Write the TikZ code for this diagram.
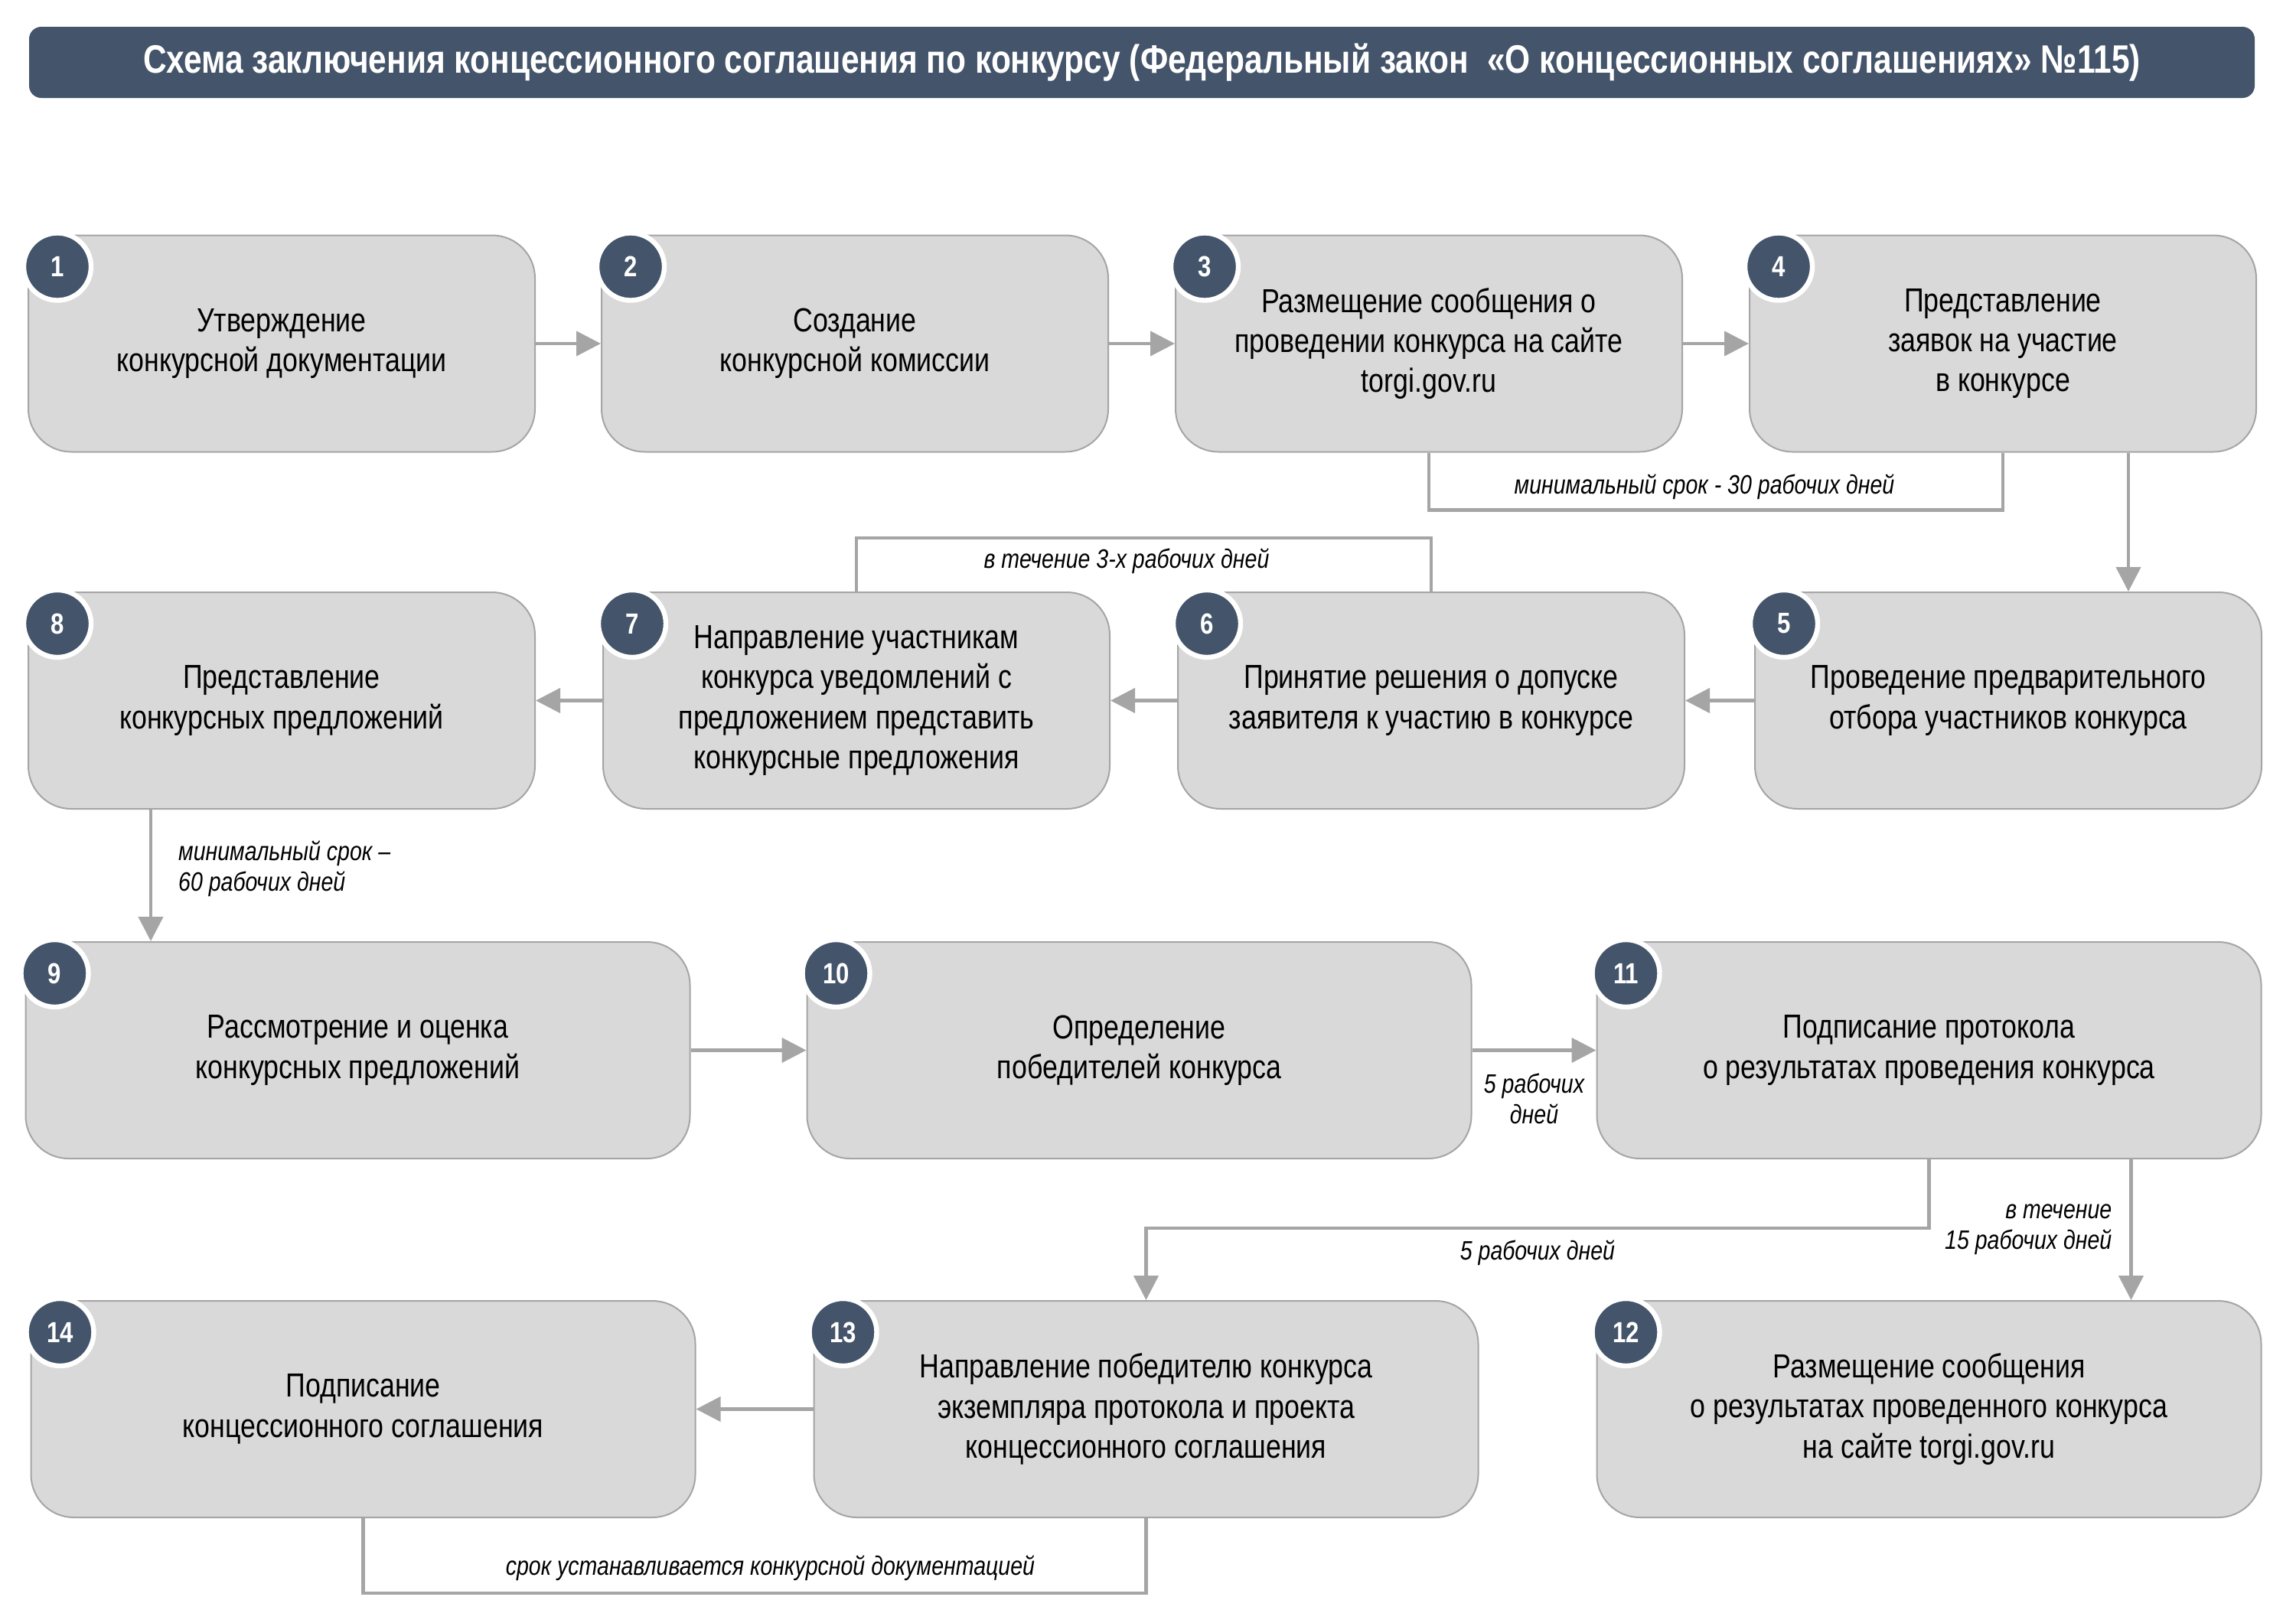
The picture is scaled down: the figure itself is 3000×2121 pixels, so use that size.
\documentclass[tikz,border=0pt]{standalone}
\usepackage{fontspec}
\setmainfont{Liberation Sans}[FakeStretch=0.82]
\usetikzlibrary{calc,arrows.meta,positioning}

\definecolor{slate}{HTML}{44546A}
\definecolor{boxgray}{HTML}{D9D9D9}
\definecolor{linegray}{HTML}{A5A5A5}

\tikzset{
	headbar/.style={fill=slate, rounded corners=4pt, minimum width=727pt, minimum height=23.25pt, inner sep=0pt, text=white, font=\bfseries\fontsize{12.95}{15}\selectfont},
	stepbox/.style={draw=linegray, line width=0.5pt, fill=boxgray, rounded corners=14pt, minimum width=165.5pt, minimum height=70.75pt, inner sep=0pt, align=center, font=\fontsize{10.9}{13.1}\selectfont},
	widebox/.style={stepbox, minimum width=217pt},
	numdot/.style={circle, fill=slate, draw=white, line width=1.6pt, minimum size=22pt, inner sep=0pt, text=white, font=\bfseries\fontsize{9.5}{10}\selectfont},
	flow/.style={draw=linegray, line width=1.1pt, -{Triangle[length=8pt,width=8pt]}},
	bracket/.style={draw=linegray, line width=1.1pt},
	term/.style={font=\itshape\fontsize{8.7}{10}\selectfont, inner sep=1pt},
}

\begin{document}
\begin{tikzpicture}[x=0.25pt, y=-0.25pt]
	\useasboundingbox (0,0) rectangle (3000,2121);
	%TITLE
	\node[headbar] (title) at (1492,81.5) {Схема заключения концессионного соглашения по конкурсу (Федеральный закон~~«О концессионных соглашениях» №115)};
	
	%ROW 1
	\node[stepbox] (b1) at (368,449) {Утверждение\\конкурсной документации};
	\node[stepbox] (b2) at (1117,449) {Создание\\конкурсной комиссии};
	\node[stepbox] (b3) at (1867,449) {Размещение сообщения о\\проведении конкурса на сайте\\torgi.gov.ru};
	\node[stepbox] (b4) at (2617,449) {Представление\\заявок на участие\\в конкурсе};
	%ROW 2
	\node[stepbox] (b5) at (2624,915.5) {Проведение предварительного\\отбора участников конкурса};
	\node[stepbox] (b6) at (1870,915.5) {Принятие решения о допуске\\заявителя к участию в конкурсе};
	\node[stepbox] (b7) at (1119,915.5) {Направление участникам\\конкурса уведомлений с\\предложением представить\\конкурсные предложения};
	\node[stepbox] (b8) at (368,915.5) {Представление\\конкурсных предложений};
	%ROW 3
	\node[widebox] (b9) at (467.5,1372.5) {Рассмотрение и оценка\\конкурсных предложений};
	\node[widebox] (b10) at (1488.5,1372.5) {Определение\\победителей конкурса};
	\node[widebox] (b11) at (2520.5,1372.5) {Подписание протокола\\о результатах проведения конкурса};
	%ROW 4
	\node[widebox] (b12) at (2520.5,1841.5) {Размещение сообщения\\о результатах проведенного конкурса\\на сайте torgi.gov.ru};
	\node[widebox] (b13) at (1497.5,1841.5) {Направление победителю конкурса\\экземпляра протокола и проекта\\концессионного соглашения};
	\node[widebox] (b14) at (474.5,1841.5) {Подписание\\концессионного соглашения};
	
	%NUMBERS
	\foreach \i in {1,...,14}
		\node[numdot] (n\i) at ($(b\i.north west)+(39,42)$) {\i};
	
	%ARROWS
	\draw[flow] (b1) -- (b2);
	\draw[flow] (b2) -- (b3);
	\draw[flow] (b3) -- (b4);
	\draw[flow] ($(b4.south)+(164,0)$) coordinate (d4) -- (d4 |- b5.north);
	\draw[flow] (b5) -- (b6);
	\draw[flow] (b6) -- (b7);
	\draw[flow] (b7) -- (b8);
	\draw[flow] ($(b8.south)+(-171,0)$) coordinate (d8) -- node[term, pos=0.45, right=7.5pt, align=left] {минимальный срок --\\60 рабочих дней} (d8 |- b9.north);
	\draw[flow] (b9) -- (b10);
	\draw[flow] (b10) -- node[term, below=6pt, align=center] {5 рабочих\\дней} (b11);
	\draw[flow] ($(b11.south)+(264,0)$) coordinate (d11) -- node[term, left=4.75pt, align=right] {в течение\\15 рабочих дней} (d11 |- b12.north);
	\draw[flow] (b11.south) -- ++(0,90) -| node[term, pos=0.25, below=2.5pt] {5 рабочих дней} (b13.north);
	\draw[flow] (b13) -- (b14);
	
	%TERMS
	\draw[bracket] (b3.south) -- ++(0,75) coordinate (c34) -- node[term, pos=0.48, above=2pt] {минимальный срок - 30 рабочих дней} (c34 -| b4.south) -- (b4.south);
	\draw[bracket] (b7.north) -- ++(0,-70) coordinate (c67) -- node[term, pos=0.47, below=2pt] {в течение 3-х рабочих дней} (c67 -| b6.north) -- (b6.north);
	\draw[bracket] (b14.south) -- ++(0,98) coordinate (c1413) -- node[term, pos=0.52, above=2.5pt] {срок устанавливается конкурсной документацией} (c1413 -| b13.south) -- (b13.south);
\end{tikzpicture}
\end{document}
